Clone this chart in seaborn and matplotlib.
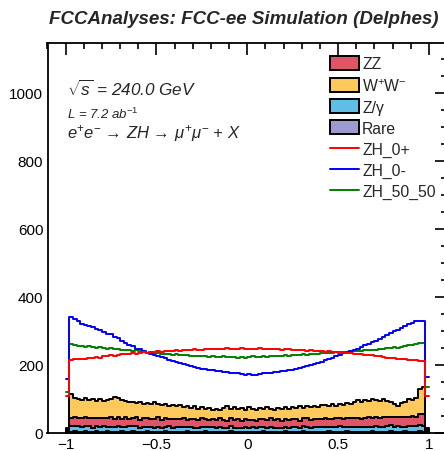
import numpy as np
import pandas as pd
import matplotlib
matplotlib.use("Agg")
import matplotlib.pyplot as plt
import seaborn as sns
from matplotlib.patches import Patch
from matplotlib.lines import Line2D
from matplotlib.ticker import MultipleLocator

# ---------------- data ----------------
n_bins = 100
x_lo, x_hi = -1.0, 1.0

zh_0plus = [110,
    216, 217, 218, 219, 219, 221, 222, 223, 222, 225,
    226, 228, 227, 230, 231, 232, 233, 234, 233, 236,
    237, 236, 238, 239, 240, 239, 241, 242, 241, 243,
    242, 244, 243, 245, 246, 244, 245, 247, 246, 248,
    247, 246, 248, 249, 247, 248, 246, 249, 248, 247,
    248, 247, 249, 246, 248, 247, 246, 248, 245, 246,
    247, 244, 245, 243, 244, 242, 243, 241, 240, 241,
    239, 240, 238, 237, 236, 237, 235, 234, 233, 231,
    232, 230, 229, 228, 226, 225, 224, 222, 221, 220,
    219, 218, 217, 216, 215, 214, 213, 211,
    110]

zh_0minus = [160,
    340, 334, 330, 322, 318, 316, 312, 306, 304, 296,
    292, 290, 283, 278, 272, 266, 260, 255, 248, 246,
    240, 236, 233, 229, 227, 224, 220, 216, 213, 210,
    206, 204, 200, 197, 195, 192, 189, 187, 185, 184,
    182, 181, 180, 178, 177, 175, 176, 173, 172, 174,
    172, 171, 174, 176, 175, 177, 179, 180, 182, 183,
    186, 185, 189, 192, 194, 197, 200, 203, 206, 210,
    214, 218, 222, 226, 229, 234, 237, 240, 243, 248,
    252, 258, 262, 268, 272, 276, 282, 288, 294, 300,
    304, 310, 314, 320, 324, 328, 330, 330,
    165]

zh_50_50 = [120,
    263, 258, 256, 257, 254, 255, 252, 251, 252, 249,
    248, 249, 246, 247, 245, 244, 245, 242, 243, 241,
    238, 236, 237, 234, 236, 233, 232, 231, 230, 231,
    229, 228, 229, 227, 226, 227, 225, 226, 224, 225,
    224, 223, 225, 224, 223, 224, 222, 223, 222, 223,
    225, 223, 224, 226, 224, 225, 226, 225, 227, 228,
    227, 229, 228, 230, 231, 230, 232, 233, 232, 234,
    235, 234, 236, 237, 238, 237, 239, 240, 241, 240,
    242, 243, 244, 243, 245, 246, 247, 249, 251, 252,
    251, 254, 256, 258, 260, 262, 264, 266,
    136]

ww = [6,
    70, 58, 57, 53, 55, 52, 55, 50, 55, 50,
    53, 54, 64, 57, 56, 48, 48, 47, 40, 52,
    43, 43, 44, 49, 39, 43, 43, 38, 42, 36,
    41, 34, 41, 32, 36, 35, 32, 30, 34, 28,
    35, 25, 36, 42, 27, 38, 29, 37, 27, 36,
    33, 35, 32, 30, 39, 27, 31, 33, 34, 33,
    33, 37, 32, 43, 30, 37, 39, 37, 33, 41,
    37, 37, 44, 36, 41, 43, 44, 42, 45, 52,
    50, 55, 47, 57, 49, 52, 52, 48, 43, 40,
    33, 40, 46, 53, 46, 56, 75, 80,
    6]

zz = [4,
    24, 26, 22, 27, 25, 23, 28, 24, 26, 22,
    25, 27, 23, 26, 24, 28, 22, 25, 27, 23,
    24, 26, 21, 25, 27, 23, 24, 22, 26, 24,
    23, 25, 21, 24, 26, 22, 25, 23, 21, 24,
    22, 25, 23, 20, 24, 22, 25, 21, 23, 24,
    22, 20, 24, 23, 21, 25, 22, 24, 20, 23,
    24, 22, 25, 21, 23, 26, 22, 24, 25, 23,
    26, 24, 22, 27, 25, 23, 26, 24, 27, 25,
    23, 26, 28, 24, 27, 25, 29, 26, 24, 28,
    26, 29, 27, 25, 30, 28, 31, 33,
    4]

zgamma = [3,
    17, 15, 18, 14, 16, 17, 13, 16, 15, 18,
    14, 16, 15, 17, 13, 15, 16, 14, 17, 13,
    15, 14, 16, 12, 15, 13, 14, 16, 12, 14,
    13, 15, 12, 14, 13, 11, 14, 12, 15, 13,
    12, 14, 11, 13, 15, 12, 13, 11, 14, 12,
    13, 11, 14, 12, 13, 15, 11, 13, 12, 14,
    12, 14, 13, 11, 15, 13, 12, 14, 13, 15,
    14, 12, 15, 13, 16, 14, 13, 15, 14, 16,
    15, 13, 16, 14, 17, 15, 14, 16, 18, 15,
    17, 16, 14, 18, 16, 17, 19, 18,
    3]

rare = [1,
    4, 5, 3, 4, 6, 4, 3, 5, 4, 4,
    5, 3, 4, 4, 5, 3, 4, 6, 4, 3,
    4, 5, 3, 4, 4, 3, 5, 4, 3, 4,
    4, 3, 5, 4, 3, 4, 4, 5, 3, 4,
    3, 4, 4, 3, 5, 4, 3, 4, 4, 3,
    4, 3, 4, 5, 3, 4, 4, 3, 4, 5,
    3, 4, 4, 3, 5, 4, 3, 4, 4, 3,
    4, 5, 3, 4, 4, 3, 5, 4, 4, 3,
    4, 4, 3, 5, 4, 3, 4, 4, 5, 3,
    4, 3, 5, 4, 4, 3, 5, 4,
    1]

bkg_names = ["ZZ", "WW", "Zgamma", "Rare"]
bkg_labels = ["ZZ", r"W$^{+}$W$^{-}$", "Z/\u03b3", "Rare"]
sig_names = ["ZH_0+", "ZH_0-", "ZH_50_50"]

# ---------------- style ----------------
sns.set_theme(style="white")
plt.rcParams["font.family"] = ["Liberation Sans", "DejaVu Sans"]
plt.rcParams["mathtext.fontset"] = "custom"
plt.rcParams["mathtext.rm"] = "Liberation Sans"
plt.rcParams["mathtext.it"] = "Liberation Sans:italic"
plt.rcParams["mathtext.bf"] = "Liberation Sans:bold"

bkg_colors = {"ZZ": "#e05468", "WW": "#fdc85c", "Zgamma": "#5fbde6", "Rare": "#9b9bd0"}
sig_colors = {"ZH_0+": "#ff0000", "ZH_0-": "#0000ff", "ZH_50_50": "#007f00"}

edges = np.linspace(x_lo, x_hi, n_bins + 1)
centers = 0.5 * (edges[:-1] + edges[1:])
bin_list = [float(e) for e in edges]

bkg_vals = {"ZZ": zz, "WW": ww, "Zgamma": zgamma, "Rare": rare}
df_bkg = pd.concat([pd.DataFrame({"x": centers, "w": bkg_vals[k], "process": k}) for k in bkg_names],
                   ignore_index=True)
sig_vals = {"ZH_0+": zh_0plus, "ZH_0-": zh_0minus, "ZH_50_50": zh_50_50}
df_sig = pd.concat([pd.DataFrame({"x": centers, "w": sig_vals[k], "process": k}) for k in sig_names],
                   ignore_index=True)

W, H = 444, 452
fig = plt.figure(figsize=(W / 100, H / 100), dpi=100)
ax = fig.add_axes([47.5 / W, (H - 434) / H, (447 - 47.5) / W, (434 - 44) / H])

sns.histplot(data=df_bkg, x="x", weights="w", hue="process",
             hue_order=["WW", "ZZ", "Zgamma", "Rare"],
             multiple="stack", element="step", bins=bin_list,
             palette=bkg_colors, edgecolor="black", linewidth=1.4,
             alpha=1, legend=False, ax=ax)

sns.histplot(data=df_sig, x="x", weights="w", hue="process",
             hue_order=sig_names, element="step", fill=False, bins=bin_list,
             palette=sig_colors, linewidth=1.4, legend=False, ax=ax)

ax.set_xlim(-1.1, 1.1)
ax.set_ylim(0, 1147)
ax.set_xlabel("")
ax.set_ylabel("")

ax.xaxis.set_minor_locator(MultipleLocator(0.1))
ax.yaxis.set_major_locator(MultipleLocator(200))
ax.yaxis.set_minor_locator(MultipleLocator(50))
ax.set_xticks([-1, -0.5, 0, 0.5, 1])
ax.set_xticklabels(["\u22121", "\u22120.5", "0", "0.5", "1"])
ax.tick_params(which="both", direction="in", top=True, right=True,
               color="black", width=1.2, labelsize=11, labelcolor="black")
ax.tick_params(which="major", length=8.6, pad=3)
ax.tick_params(which="minor", length=4.3)
for s in ax.spines.values():
    s.set_color("black")
    s.set_linewidth(1.3)

fig.text(0.548, 1 - 20 / H, "FCCAnalyses: FCC-ee Simulation (Delphes)",
         ha="center", va="center", fontsize=13.5, fontweight="bold", fontstyle="italic")

ax.text(0.048, 0.885, r"$\sqrt{s}$ = 240.0 GeV", transform=ax.transAxes,
        fontsize=12.3, fontstyle="italic", va="center", ha="left")
ax.text(0.048, 0.82, r"L = 7.2 ab$^{-1}$", transform=ax.transAxes,
        fontsize=9.5, fontstyle="italic", va="center", ha="left")
ax.text(0.048, 0.77, "e$^{+}$e$^{-}$ \u2192 ZH \u2192 $\\mu^{+}\\mu^{-}$ + X",
        transform=ax.transAxes, fontsize=12, fontstyle="italic", va="center", ha="left")

handles = [Patch(facecolor=bkg_colors[k], edgecolor="black", linewidth=1.4) for k in bkg_names]
handles += [Line2D([0], [0], color=sig_colors[k], lw=1.4) for k in sig_names]
labels = bkg_labels + sig_names
ax.legend(handles, labels, loc="upper left", bbox_to_anchor=(330 / W, 1 - 57 / H),
          bbox_transform=fig.transFigure, frameon=False, fontsize=11.3,
          handlelength=1.85, handleheight=1.0, labelspacing=0.36, handletextpad=0.2,
          borderaxespad=0, borderpad=0)

fig.savefig("out.png", dpi=100)
